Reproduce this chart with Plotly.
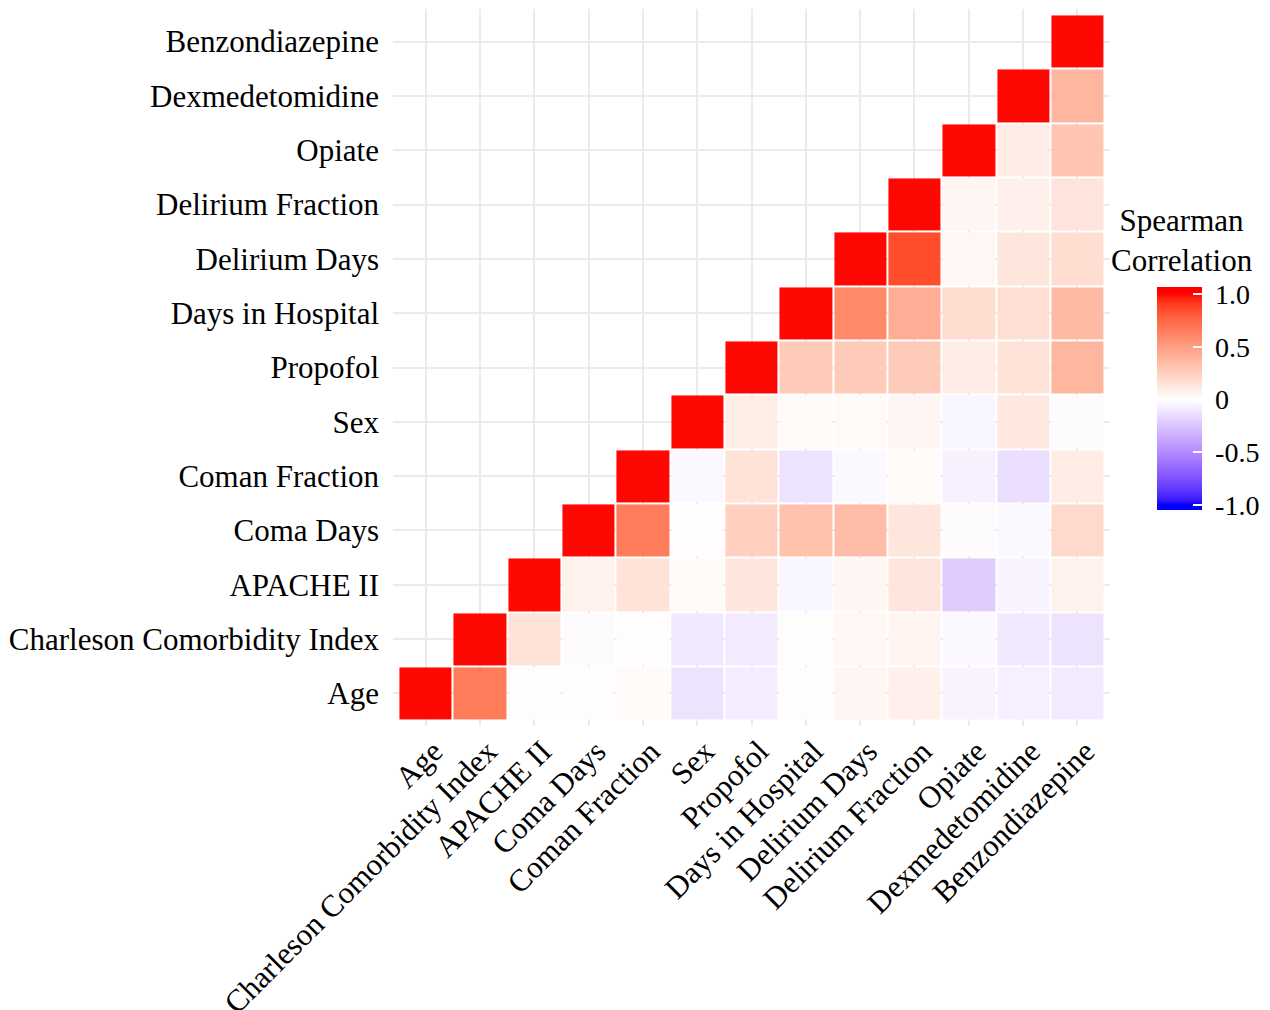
import plotly.graph_objects as go
import numpy as np

labels = ["Age", "Charleson Comorbidity Index", "APACHE II", "Coma Days",
          "Coman Fraction", "Sex", "Propofol", "Days in Hospital",
          "Delirium Days", "Delirium Fraction", "Opiate", "Dexmedetomidine",
          "Benzondiazepine"]

# Upper-triangle rows: row i holds correlations with columns i..12
row_age = [1.0, 0.66, 0.003, 0.0, 0.02, -0.12, -0.08, 0.01, 0.05, 0.08, -0.05, -0.07, -0.09]
row_cci = [1.0, 0.15, -0.01, 0.0, -0.10, -0.09, 0.0, 0.04, 0.06, -0.03, -0.10, -0.12]
row_apache = [1.0, 0.07, 0.15, 0.03, 0.13, -0.04, 0.05, 0.13, -0.22, -0.05, 0.07]
row_coma_days = [1.0, 0.66, 0.005, 0.25, 0.32, 0.35, 0.13, -0.01, -0.03, 0.20]
row_coma_frac = [1.0, -0.03, 0.15, -0.12, -0.03, 0.02, -0.06, -0.14, 0.10]
row_sex = [1.0, 0.09, 0.03, 0.03, 0.05, -0.04, 0.12, -0.01]
row_propofol = [1.0, 0.27, 0.27, 0.27, 0.10, 0.15, 0.38]
row_hospital = [1.0, 0.60, 0.42, 0.18, 0.17, 0.36]
row_del_days = [1.0, 0.85, 0.04, 0.13, 0.18]
row_del_frac = [1.0, 0.05, 0.08, 0.14]
row_opiate = [1.0, 0.10, 0.30]
row_dex = [1.0, 0.38]
row_benzo = [1.0]

rows = [row_age, row_cci, row_apache, row_coma_days, row_coma_frac, row_sex,
        row_propofol, row_hospital, row_del_days, row_del_frac, row_opiate,
        row_dex, row_benzo]

legend_ticks = [-1, -0.5, 0, 0.5, 1]
legend_ticktext = ["-1.0", "-0.5", "0", "0.5", "1.0"]

n = len(labels)
z = [[None] * n for _ in range(n)]
for i, r in enumerate(rows):
    for k, v in enumerate(r):
        z[i][i + k] = v

# ---- Lab-space diverging gradient (blue - white - red) ----
def _lin(c):
    c = c / 255.0
    return ((c + 0.055) / 1.055) ** 2.4 if c > 0.04045 else c / 12.92

def _gam(c):
    c = 1.055 * c ** (1 / 2.4) - 0.055 if c > 0.0031308 else 12.92 * c
    return max(0, min(255, round(c * 255)))

Xn, Yn, Zn = 0.95047, 1.0, 1.08883

def rgb2lab(rgb):
    r, g, b = [_lin(c) for c in rgb]
    X = 0.4124 * r + 0.3576 * g + 0.1805 * b
    Y = 0.2126 * r + 0.7152 * g + 0.0722 * b
    Z = 0.0193 * r + 0.1192 * g + 0.9505 * b
    def f(t):
        return t ** (1 / 3) if t > 0.008856 else 7.787 * t + 16 / 116
    fx, fy, fz = f(X / Xn), f(Y / Yn), f(Z / Zn)
    return (116 * fy - 16, 500 * (fx - fy), 200 * (fy - fz))

def lab2rgb(lab):
    L, a, b = lab
    fy = (L + 16) / 116
    fx = fy + a / 500
    fz = fy - b / 200
    def finv(t):
        return t ** 3 if t ** 3 > 0.008856 else (t - 16 / 116) / 7.787
    X, Y, Z = Xn * finv(fx), Yn * finv(fy), Zn * finv(fz)
    r = 3.2406 * X - 1.5372 * Y - 0.4986 * Z
    g = -0.9689 * X + 1.8758 * Y + 0.0415 * Z
    bb = 0.0557 * X - 0.2040 * Y + 1.0570 * Z
    return "rgb(%d,%d,%d)" % (_gam(max(r, 0)), _gam(max(g, 0)), _gam(max(bb, 0)))

low, mid, high = (0, 0, 255), (255, 255, 255), (255, 0, 0)
lab_low, lab_mid, lab_high = rgb2lab(low), rgb2lab(mid), rgb2lab(high)

# colour range slightly wider than [-1, 1] so the legend bar overhangs its end ticks
ZMIN, ZMAX = -1.05, 1.07
colorscale = []
for t in np.linspace(0, 1, 81):
    v = ZMIN + t * (ZMAX - ZMIN)
    v = max(-1.0, min(1.0, v))
    if v < 0:
        lab = tuple(lab_mid[k] + (lab_low[k] - lab_mid[k]) * (-v) for k in range(3))
    else:
        lab = tuple(lab_mid[k] + (lab_high[k] - lab_mid[k]) * v for k in range(3))
    colorscale.append([float(t), lab2rgb(lab)])

font_family = '"Liberation Serif", "Times New Roman", Times, serif'

# page body has an 8px margin; lay out in screen pixels and compensate
OFF = 8
W, H = 1270 - OFF, 1010 - OFF
PX_L, PX_R, PX_T, PX_B = 393, 1110, 9, 726   # plot area, screen pixels
L_M = PX_L - OFF
T_M = PX_T - OFF
R_M = W - (PX_R - OFF)
B_M = H - (PX_B - OFF)
PW, PH = W - L_M - R_M, H - T_M - B_M

def px_x(px):
    return (px - OFF - L_M) / PW

def px_y(py):
    return (H - B_M - (py - OFF)) / PH

fig = go.Figure(go.Heatmap(
    x=labels, y=labels, z=z,
    zmin=ZMIN, zmax=ZMAX,
    colorscale=colorscale,
    xgap=2, ygap=2,
    hoverongaps=False,
    colorbar=dict(
        title=dict(text=""),
        x=px_x(1157), xanchor="left",
        y=px_y(398.5), yanchor="middle",
        lenmode="pixels", len=223,
        thickness=45, thicknessmode="pixels",
        outlinewidth=0,
        ticks="inside", ticklen=9, tickwidth=2, tickcolor="white",
        tickvals=legend_ticks,
        ticktext=["\u00a0" + t for t in legend_ticktext],
        tickfont=dict(family=font_family, size=28, color="black"),
        xpad=0, ypad=0,
    ),
))

fig.update_layout(
    width=W, height=H,
    margin=dict(l=L_M, r=R_M, t=T_M, b=B_M, autoexpand=False),
    plot_bgcolor="white", paper_bgcolor="white",
    font=dict(family=font_family, color="black"),
    xaxis=dict(
        type="category", categoryorder="array", categoryarray=labels,
        range=[-0.6, n - 0.4], automargin=False,
        showgrid=True, gridcolor="#EBEBEB", gridwidth=1.6,
        zeroline=False, showline=False, ticks="",
        tickangle=-45, tickfont=dict(family=font_family, size=31, color="black"),
        ticklabelstandoff=0, ticklabelshift=8,
    ),
    yaxis=dict(
        type="category", categoryorder="array", categoryarray=labels,
        range=[-0.6, n - 0.4], automargin=False,
        showgrid=True, gridcolor="#EBEBEB", gridwidth=1.6,
        zeroline=False, showline=False, ticks="",
        tickfont=dict(family=font_family, size=31, color="black"),
        ticklabelstandoff=13,
    ),
    annotations=[dict(
        text="Spearman<br>Correlation",
        xref="paper", yref="paper",
        x=px_x(1182), y=px_y(241),
        xanchor="center", yanchor="middle",
        showarrow=False, align="center",
        font=dict(family=font_family, size=31, color="black"),
    )],
)

fig.write_html("out.html")
